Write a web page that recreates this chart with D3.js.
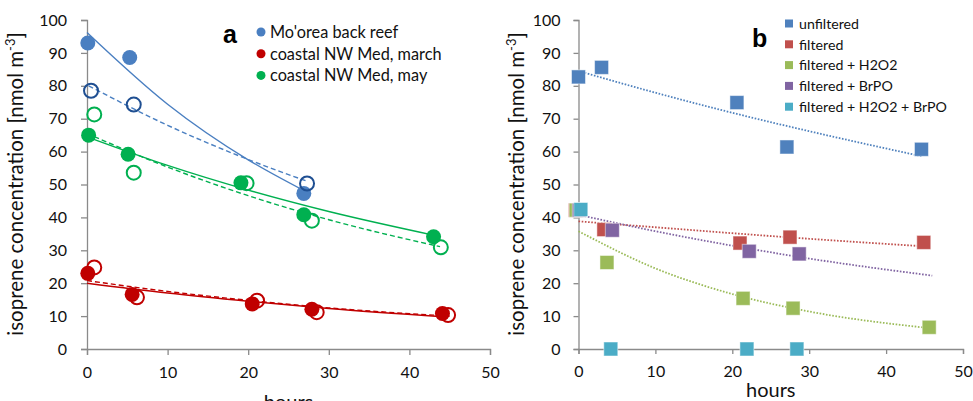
<!DOCTYPE html>
<html>
<head>
<meta charset="utf-8">
<script src="https://cdn.jsdelivr.net/npm/d3@7"></script>
<style>
  body { margin: 0; background: #fff; }
  svg { display: block; font-family: Lato, "Open Sans", sans-serif; }
  .axis path, .axis line { stroke: #8a8a8a; stroke-width: 1.3; }
  .axis text { fill: #111; font-size: 16px; font-family: Lato, sans-serif; }
</style>
</head>
<body>
<script>
// ---- panel a : filled = solid fit, open = dashed fit ----
const mooreaHours = [0.1, 5.3, 26.9];
const mooreaConc = [93, 88.6, 47.3];
const mooreaOpenHours = [0.5, 5.8, 27.3];
const mooreaOpenConc = [78.5, 74.3, 50.3];
const marchHours = [0.1, 5.6, 20.5, 27.9, 44.1];
const marchConc = [23, 16.6, 13.7, 12.1, 10.8];
const marchOpenHours = [0.9, 6.2, 21.1, 28.5, 44.8];
const marchOpenConc = [24.8, 15.7, 14.7, 11.2, 10.3];
const mayHours = [0.2, 5.1, 19.1, 26.9, 43.0];
const mayConc = [65, 59.2, 50.5, 40.8, 34.1];
const mayOpenHours = [0.9, 5.8, 19.8, 27.9, 43.9];
const mayOpenConc = [71.3, 53.6, 50.4, 39.0, 30.9];

// fitted trend lines (hours, value)
const mooreaFitHours = [0, 10, 20, 26.8];
const mooreaFit = [96.2, 74.4, 57.5, 48.3];
const mooreaOpenFitHours = [0.2, 10, 20, 27.4];
const mooreaOpenFit = [80, 68.0, 57.6, 50.9];
const marchFitHours = [0, 10, 20, 30, 44.2];
const marchFit = [20, 17.0, 14.5, 12.3, 9.8];
const marchOpenFitHours = [0, 10, 20, 30, 45];
const marchOpenFit = [20.8, 17.5, 14.8, 12.5, 10];
const mayFitHours = [0, 10, 20, 30, 43.4];
const mayFit = [64.5, 55.8, 48.3, 41.8, 34.4];
const mayOpenFitHours = [0, 10, 20, 30, 43.8];
const mayOpenFit = [65.5, 55.3, 46.6, 39.3, 31.1];

const legendA = ["Mo'orea back reef", "coastal NW Med, march", "coastal NW Med, may"];

// ---- panel b ----
const unfilteredHours = [0, 3.0, 20.6, 27.1, 44.6];
const unfiltered = [82.7, 85.6, 74.9, 61.4, 60.7];
const filteredHours = [-0.4, 3.3, 21.0, 27.5, 44.9];
const filtered = [42.2, 36.3, 32.2, 34.0, 32.4];
const h2o2Hours = [-0.3, 3.7, 21.4, 27.9, 45.6];
const h2o2 = [42.2, 26.3, 15.4, 12.4, 6.6];
const brpoHours = [0.1, 4.4, 22.2, 28.7];
const brpo = [42.2, 36.1, 29.7, 28.9];
const h2o2BrpoHours = [0.3, 4.2, 21.9, 28.4];
const h2o2Brpo = [42.4, 0, 0, 0];

const unfilteredFitHours = [0, 10, 20, 30, 44.6];
const unfilteredFit = [84.5, 77.9, 71.8, 66.2, 58.6];
const filteredFitHours = [0, 10, 20, 30, 45];
const filteredFit = [38.8, 37.0, 35.2, 33.5, 31.2];
const h2o2FitHours = [0, 10, 20, 30, 45.8];
const h2o2Fit = [35.8, 24.5, 16.7, 11.4, 6.3];
const brpoFitHours = [0, 10, 20, 30, 46];
const brpoFit = [40.8, 35.8, 31.4, 27.5, 22.3];

const legendB = ["unfiltered", "filtered", "filtered + H2O2", "filtered + BrPO", "filtered + H2O2 + BrPO"];

const xTicks = [0, 10, 20, 30, 40, 50];
const yTicks = [0, 10, 20, 30, 40, 50, 60, 70, 80, 90, 100];

const zip = (xs, ys) => xs.map((x, i) => ({x: x, y: ys[i]}));

const svg = d3.select("body").append("svg")
  .attr("width", 973).attr("height", 401);

// scales
const xa = d3.scaleLinear().domain([0, 50]).range([87, 490]);
const ya = d3.scaleLinear().domain([0, 100]).range([349, 20]);
const xb = d3.scaleLinear().domain([0, 50]).range([578.5, 963]);
const yb = d3.scaleLinear().domain([0, 100]).range([349, 20]);

function drawAxes(x, y, tick, padY, titleX, hoursY) {
  svg.append("g").attr("class", "axis")
    .attr("transform", "translate(0," + y(0) + ")")
    .call(d3.axisBottom(x).tickValues(xTicks).tickSize(tick).tickPadding(12));
  svg.append("g").attr("class", "axis")
    .attr("transform", "translate(" + x(0) + ",0)")
    .call(d3.axisLeft(y).tickValues(yTicks).tickSize(tick).tickPadding(padY));
  svg.selectAll(".axis .domain").attr("fill", "none");

  let t = svg.append("text")
    .attr("transform", "translate(" + titleX + ",184) rotate(-90)")
    .attr("text-anchor", "middle")
    .style("font-size", "20.5px").style("fill", "#111");
  t.append("tspan").text("isoprene concentration [nmol m");
  t.append("tspan").attr("dy", -8).style("font-size", "13px").text("-3");
  t.append("tspan").attr("dy", 8).text("]");

  svg.append("text")
    .attr("x", (x(0) + x(50)) / 2).attr("y", hoursY)
    .attr("text-anchor", "middle")
    .style("font-size", "20px").style("fill", "#111")
    .text("hours");
}

drawAxes(xa, ya, 6, 14, 23, 409);
drawAxes(xb, yb, 5, 13, 524, 397);

function fitLine(x, y, pts, color, dash, width) {
  svg.append("path")
    .datum(pts)
    .attr("fill", "none")
    .attr("stroke", color)
    .attr("stroke-width", width)
    .attr("stroke-dasharray", dash)
    .attr("d", d3.line().x(d => x(d.x)).y(d => y(d.y)).curve(d3.curveMonotoneX));
}

// ---- panel a ----
const blue = "#4a7fc1", blueDark = "#1f4f92", red = "#c00000", green = "#00b050";

const seriesA = [
  {filled: zip(mooreaHours, mooreaConc), open: zip(mooreaOpenHours, mooreaOpenConc),
   fit: zip(mooreaFitHours, mooreaFit), openFit: zip(mooreaOpenFitHours, mooreaOpenFit),
   color: blue, openColor: blueDark},
  {filled: zip(marchHours, marchConc), open: zip(marchOpenHours, marchOpenConc),
   fit: zip(marchFitHours, marchFit), openFit: zip(marchOpenFitHours, marchOpenFit),
   color: red, openColor: red},
  {filled: zip(mayHours, mayConc), open: zip(mayOpenHours, mayOpenConc),
   fit: zip(mayFitHours, mayFit), openFit: zip(mayOpenFitHours, mayOpenFit),
   color: green, openColor: green}
];

seriesA.forEach(s => {
  fitLine(xa, ya, s.fit, s.color, null, 1.4);
  fitLine(xa, ya, s.openFit, s.color, "5,3", 1.4);
});
seriesA.forEach(s => {
  svg.append("g").selectAll("circle").data(s.filled).enter().append("circle")
    .attr("cx", d => xa(d.x)).attr("cy", d => ya(d.y)).attr("r", 7.5)
    .attr("fill", s.color);
  svg.append("g").selectAll("circle").data(s.open).enter().append("circle")
    .attr("cx", d => xa(d.x)).attr("cy", d => ya(d.y)).attr("r", 7)
    .attr("fill", "none").attr("stroke", s.openColor).attr("stroke-width", 2);
});

svg.append("text").attr("x", 223).attr("y", 43)
  .style("font-family", "'Liberation Sans', Arial, sans-serif")
  .style("font-weight", "bold").style("font-size", "25px").text("a");

legendA.forEach((name, i) => {
  let gy = 32 + i * 21.7;
  svg.append("circle").attr("cx", 261).attr("cy", gy).attr("r", 4.5).attr("fill", seriesA[i].color);
  svg.append("text").attr("x", 270).attr("y", gy + 5.8)
    .style("font-size", "16.3px").style("fill", "#111").text(name);
});

// ---- panel b ----
const colorsB = ["#4f81bd", "#c0504d", "#9bbb59", "#8064a2", "#4bacc6"];
const seriesB = [
  {pts: zip(unfilteredHours, unfiltered), fit: zip(unfilteredFitHours, unfilteredFit)},
  {pts: zip(filteredHours, filtered), fit: zip(filteredFitHours, filteredFit)},
  {pts: zip(h2o2Hours, h2o2), fit: zip(h2o2FitHours, h2o2Fit)},
  {pts: zip(brpoHours, brpo), fit: zip(brpoFitHours, brpoFit)},
  {pts: zip(h2o2BrpoHours, h2o2Brpo), fit: null}
];

seriesB.forEach((s, i) => {
  if (s.fit) fitLine(xb, yb, s.fit, colorsB[i], "1.6,1.6", 1.8);
});
seriesB.forEach((s, i) => {
  svg.append("g").selectAll("rect").data(s.pts).enter().append("rect")
    .attr("x", d => xb(d.x) - 7).attr("y", d => yb(d.y) - 7)
    .attr("width", 14).attr("height", 14)
    .attr("fill", colorsB[i])
    .attr("stroke", "#fff").attr("stroke-opacity", 0.5).attr("stroke-width", 1);
});

svg.append("text").attr("x", 752).attr("y", 47)
  .style("font-family", "'Liberation Sans', Arial, sans-serif")
  .style("font-weight", "bold").style("font-size", "25px").text("b");

legendB.forEach((name, i) => {
  let gy = 23.5 + i * 20.8;
  svg.append("rect").attr("x", 785).attr("y", gy - 4).attr("width", 8).attr("height", 8)
    .attr("fill", colorsB[i]);
  svg.append("text").attr("x", 799).attr("y", gy + 5.3)
    .style("font-size", "14.2px").style("fill", "#111").text(name);
});
</script>
</body>
</html>
